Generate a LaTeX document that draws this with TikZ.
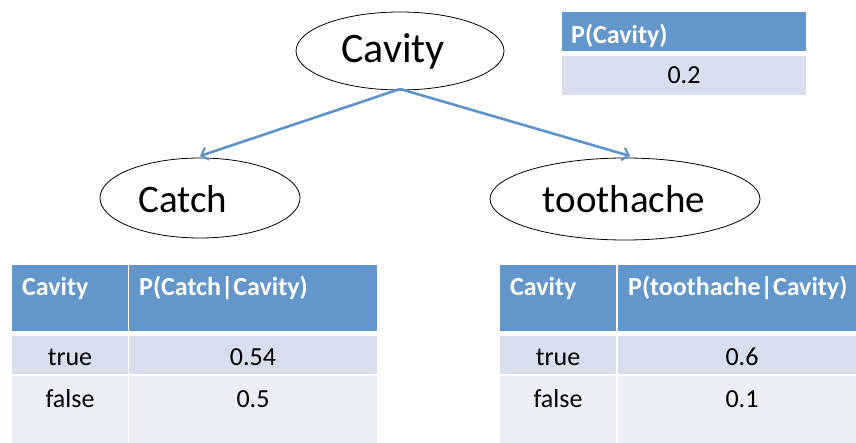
\documentclass[tikz,border=0pt]{standalone}
\usepackage{fontspec}
\setmainfont{Carlito}
\usetikzlibrary{shapes.geometric,arrows.meta}
\definecolor{hdr}{HTML}{6396CA}
\definecolor{rowa}{HTML}{D8DEEE}
\definecolor{rowb}{HTML}{EBEEF6}
\definecolor{arr}{HTML}{5F93CB}
\tikzset{
  ell/.style={ellipse,draw=black,line width=0.8pt,inner sep=0pt},
  etxt/.style={inner sep=0pt,font=\fontsize{39}{43}\selectfont},
  cell/.style={rectangle,anchor=north west,inner sep=0pt,draw=none},
  hcell/.style={cell,fill=hdr},
  acell/.style={cell,fill=rowa},
  bcell/.style={cell,fill=rowb},
  htxt/.style={anchor=base west,inner sep=0pt,text=white,font=\fontsize{26}{30}\selectfont\bfseries},
  btxt/.style={anchor=base,inner sep=0pt,text=black,font=\fontsize{26}{30}\selectfont},
  edge/.style={draw=arr,line width=2.6pt,-{Straight Barb[length=6pt,width=13pt,line width=2pt]}}
}
\begin{document}
\begin{tikzpicture}[x=1pt,y=-1pt]
\useasboundingbox (0,0) rectangle (856,443);
% ellipses
\node[ell,minimum width=208pt,minimum height=78pt] (cav) at (400,51) {};
\node[ell,minimum width=200pt,minimum height=80pt] (cat) at (200,198) {};
\node[ell,minimum width=270pt,minimum height=82pt] (too) at (625,199) {};
\node[etxt,font=\fontsize{42}{46}\selectfont] (cavT) at (393,51) {Cavity};
\node[etxt] (catT) at (183,199) {Catch};
\node[etxt] (tooT) at (624,199) {toothache};
\coordinate (src) at (400,89);
\coordinate (tcat) at (200,156);
\coordinate (ttoo) at (630,156);
\draw[edge] (src) -- (tcat);
\draw[edge] (src) -- (ttoo);
% top table
\node[hcell,minimum width=244pt,minimum height=39pt] (th) at (562,12) {};
\node[acell,minimum width=244pt,minimum height=39pt] (tr) at (562,56) {};
\node[htxt] (thT) at (571,44) {P(Cavity)};
\node[btxt] (trT) at (684,84) {0.2};
% left table
\node[hcell,minimum width=116pt,minimum height=66pt] (lh1) at (12,265) {};
\node[hcell,minimum width=248pt,minimum height=66pt] (lh2) at (129,265) {};
\node[acell,minimum width=116pt,minimum height=38pt] (la1) at (12,336) {};
\node[acell,minimum width=248pt,minimum height=38pt] (la2) at (129,336) {};
\node[bcell,minimum width=116pt,minimum height=67pt] (lb1) at (12,376) {};
\node[bcell,minimum width=248pt,minimum height=67pt] (lb2) at (129,376) {};
\node[htxt] (lh1T) at (22,296) {Cavity};
\node[htxt] (lh2T) at (139,296) {P(Catch|Cavity)};
\node[btxt] (la1T) at (70,365) {true};
\node[btxt] (la2T) at (253,365) {0.54};
\node[btxt] (lb1T) at (70,407) {false};
\node[btxt] (lb2T) at (253,407) {0.5};
% right table
\node[hcell,minimum width=116pt,minimum height=66pt] (rh1) at (500,265) {};
\node[hcell,minimum width=238pt,minimum height=66pt] (rh2) at (618,265) {};
\node[acell,minimum width=116pt,minimum height=38pt] (ra1) at (500,336) {};
\node[acell,minimum width=238pt,minimum height=38pt] (ra2) at (618,336) {};
\node[bcell,minimum width=116pt,minimum height=67pt] (rb1) at (500,376) {};
\node[bcell,minimum width=238pt,minimum height=67pt] (rb2) at (618,376) {};
\node[htxt] (rh1T) at (510,296) {Cavity};
\node[htxt] (rh2T) at (628,296) {P(toothache|Cavity)};
\node[btxt] (ra1T) at (558,365) {true};
\node[btxt] (ra2T) at (742,365) {0.6};
\node[btxt] (rb1T) at (558,407) {false};
\node[btxt] (rb2T) at (742,407) {0.1};
\end{tikzpicture}
\end{document}
